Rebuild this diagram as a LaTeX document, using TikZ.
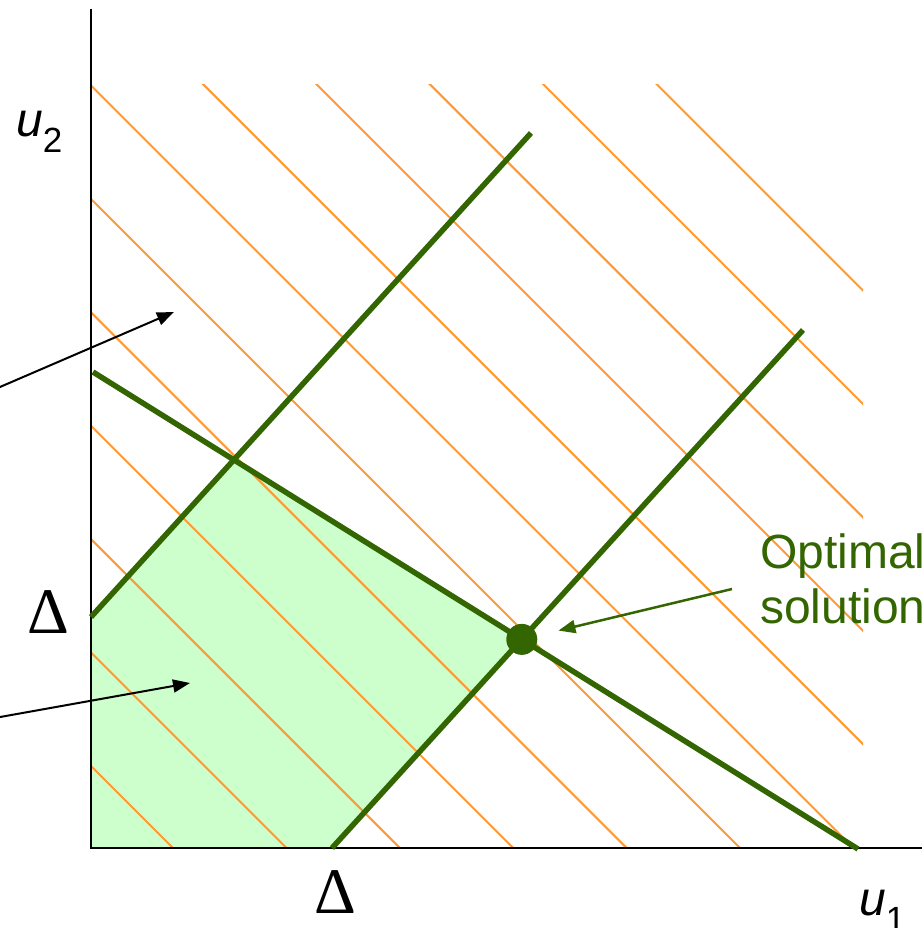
\documentclass[tikz,border=0pt]{standalone}
\usepackage{fontspec}
\setmainfont{Liberation Sans}
\newfontfamily\deltafont{Liberation Serif}
\usetikzlibrary{arrows.meta}
\definecolor{dkgreen}{RGB}{51,102,0}
\definecolor{ltgreen}{RGB}{204,255,204}
\definecolor{hatch}{RGB}{255,153,51}
\begin{document}
\begin{tikzpicture}[x=1pt,y=-1pt,
  axis/.style={black, line width=2.5pt},
  hatchline/.style={hatch, line width=2pt},
  constraint/.style={dkgreen, line width=5.5pt},
  pointer/.style={black, line width=2pt, -{Triangle[length=17pt,width=13pt]}},
  greenpointer/.style={dkgreen, line width=2.5pt, -{Triangle[length=17pt,width=13pt]}},
  lbl/.style={inner sep=0pt, anchor=base west},
  deltalbl/.style={inner sep=0pt, anchor=base, font=\deltafont\fontsize{65}{65}\selectfont},
  biglbl/.style={font=\fontsize{48}{48}\selectfont},
]
\useasboundingbox (0,0) rectangle (921,928);

\coordinate (O) at (91,848);
\coordinate (Ytop) at (91,9);
\coordinate (Xend) at (925,848);

\coordinate (A1) at (91,617);  \coordinate (A2) at (531,133);
\coordinate (B1) at (332,848); \coordinate (B2) at (803,330);
\coordinate (C1) at (93,372);  \coordinate (C2) at (858,849);
\coordinate (AC) at (intersection of A1--A2 and C1--C2);
\coordinate (BC) at (intersection of B1--B2 and C1--C2);

% feasible region
\fill[ltgreen] (O) -- (A1) -- (AC) -- (BC) -- (B1) -- cycle;

% hatching
\begin{scope}
  \clip (90,85) rectangle (863,848);
  \foreach \k in {-5,...,6} {
    \draw[hatchline] (0,{-5.45+113.4*\k}) -- (1000,{994.55+113.4*\k});
  }
\end{scope}

% axes
\draw[axis] (Ytop) -- (O) -- (Xend);

% constraint lines
\draw[constraint] (A1) -- (A2);
\draw[constraint] (B1) -- (B2);
\draw[constraint] (C1) -- (C2);

\node[circle, fill=dkgreen, minimum size=31pt, inner sep=0pt] (opt) at (BC) {};

% pointers
\coordinate (p1) at (-20,395.6); \coordinate (t1) at (174,312);
\coordinate (p2) at (-20,720.6); \coordinate (t2) at (190,683);
\draw[pointer] (p1) -- (t1);
\draw[pointer] (p2) -- (t2);
\coordinate (gs) at (732,589);
\draw[greenpointer, shorten >=22pt] (gs) -- (opt);

% labels
\node[lbl, biglbl] (u2) at (16,137) {\textit{u}\raisebox{-16pt}{\fontsize{35}{35}\selectfont 2}};
\node[lbl, biglbl] (u1) at (859,915) {\textit{u}\raisebox{-16pt}{\fontsize{35}{35}\selectfont 1}};
\node[deltalbl] (dy) at (48.5,633) {Δ};
\node[deltalbl] (dx) at (335,913) {Δ};
\node[lbl, biglbl, text=dkgreen] (opt1) at (760,568) {Optimal};
\node[lbl, biglbl, text=dkgreen] (opt2) at (760,623) {solution};
\end{tikzpicture}
\end{document}
